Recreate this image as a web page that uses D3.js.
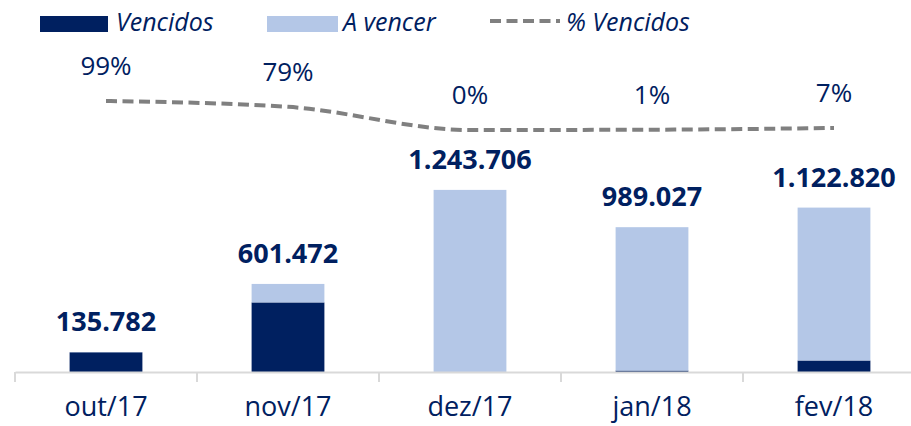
<!DOCTYPE html>
<meta charset="utf-8">
<html>
<head>
<style>
  body { margin: 0; background: #fff; }
  text { font-family: "Open Sans", sans-serif; fill: #002060; }
</style>
</head>
<body>
<div id="chart"></div>
<script src="https://d3js.org/d3.v7.min.js"></script>
<script>

// data
var months = ["out/17", "nov/17", "dez/17", "jan/18", "fev/18"];
var vencidos = [134424, 475163, 0, 9890, 78597];
var aVencer = [1358, 126309, 1243706, 979137, 1044223];
var pctVencidos = [0.99, 0.79, 0.00, 0.01, 0.07];
var pctLabels = ["99%", "79%", "0%", "1%", "7%"];

var width = 911, height = 426;

var svg = d3.select("#chart")
  .append("svg")
    .attr("width", width)
    .attr("height", height);

var x = d3.scaleBand()
  .domain(months)
  .range([15, 925])
  .paddingInner(0.6)
  .paddingOuter(0.3);

var y = d3.scaleLinear()
  .domain([0, 1400000])
  .range([372, 167]);

var yPct = d3.scaleLinear()
  .domain([0, 1])
  .range([130, 100.7]);

var rows = months.map(function(m, i) {
  return {month: m, vencidos: vencidos[i], aVencer: aVencer[i]};
});
var series = d3.stack().keys(["vencidos", "aVencer"])(rows);
var color = d3.scaleOrdinal()
  .domain(["vencidos", "aVencer"])
  .range(["#002060", "#B4C7E7"]);

// bars
svg.append("g")
  .selectAll("g")
  .data(series)
  .enter().append("g")
    .attr("fill", function(d) { return color(d.key); })
  .selectAll("rect")
  .data(function(d) { return d; })
  .enter().append("rect")
    .attr("x", function(d) { return x(d.data.month); })
    .attr("y", function(d) { return y(d[1]); })
    .attr("width", x.bandwidth())
    .attr("height", function(d) { return y(d[0]) - y(d[1]); });

// axis
var axis = svg.append("g")
  .attr("transform", "translate(0," + y(0) + ")")
  .call(d3.axisBottom(x).tickSize(0).tickPadding(25));
axis.select(".domain").attr("stroke", "#D9D9D9").attr("stroke-width", 2);
axis.selectAll("text")
  .style("font-size", "27px")
  .attr("fill", "#002060");

axis.selectAll(".sep")
  .data(months)
  .enter().append("line")
    .attr("x1", function(d) { return x(d) - x.step() * 0.3; })
    .attr("x2", function(d) { return x(d) - x.step() * 0.3; })
    .attr("y1", 0)
    .attr("y2", 10)
    .attr("stroke", "#D9D9D9")
    .attr("stroke-width", 2);

// totals
svg.append("g")
  .selectAll("text")
  .data(rows)
  .enter().append("text")
    .attr("x", function(d) { return x(d.month) + x.bandwidth() / 2; })
    .attr("y", function(d) { return y(d.vencidos + d.aVencer) - 21; })
    .attr("text-anchor", "middle")
    .style("font-size", "27px")
    .style("font-weight", "bold")
    .text(function(d) { return d3.format(",")(d.vencidos + d.aVencer).replace(/,/g, "."); });

// % vencidos line
var line = d3.line()
  .x(function(d, i) { return x(months[i]) + x.bandwidth() / 2; })
  .y(function(d) { return yPct(d); })
  .curve(d3.curveMonotoneX);

svg.append("path")
  .datum(pctVencidos)
  .attr("d", line)
  .attr("fill", "none")
  .attr("stroke", "#808080")
  .attr("stroke-width", 4)
  .attr("stroke-dasharray", "11,5.5");

svg.append("g")
  .selectAll("text")
  .data(pctVencidos)
  .enter().append("text")
    .attr("x", function(d, i) { return x(months[i]) + x.bandwidth() / 2; })
    .attr("y", function(d) { return yPct(d) - 26; })
    .attr("text-anchor", "middle")
    .style("font-size", "26px")
    .text(function(d, i) { return pctLabels[i]; });

// legend
var legend = svg.append("g");
legend.append("rect").attr("x", 40).attr("y", 16).attr("width", 68).attr("height", 16).attr("fill", "#002060");
legend.append("text").attr("x", 116).attr("y", 31).text("Vencidos")
  .style("font-size", "25px").style("font-style", "italic");
legend.append("rect").attr("x", 267).attr("y", 16).attr("width", 71).attr("height", 16).attr("fill", "#B4C7E7");
legend.append("text").attr("x", 343).attr("y", 31).text("A vencer")
  .style("font-size", "25px").style("font-style", "italic");
legend.append("line").attr("x1", 490).attr("x2", 560).attr("y1", 21).attr("y2", 21)
  .attr("stroke", "#808080").attr("stroke-width", 4).attr("stroke-dasharray", "11,5.5");
legend.append("text").attr("x", 566).attr("y", 31).text("% Vencidos")
  .style("font-size", "25px").style("font-style", "italic");

</script>
</body>
</html>
